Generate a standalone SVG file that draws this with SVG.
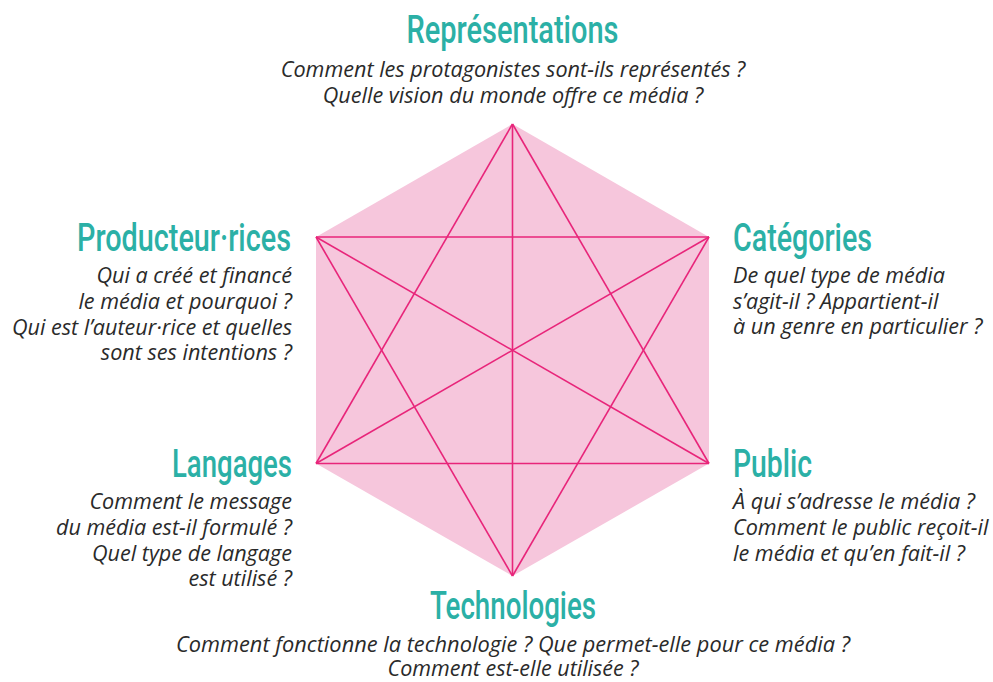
<svg xmlns="http://www.w3.org/2000/svg" width="993" height="682" viewBox="0 0 993 682">
<style>
.h{font-family:Roboto,"Liberation Sans",sans-serif;font-weight:500;font-size:38px;fill:#2bb0a6}
.b{font-family:"Open Sans","Liberation Sans",sans-serif;font-style:italic;font-size:21.6px;fill:#2a2a2a}
.e{text-anchor:end}.m{text-anchor:middle}
.ln{stroke:#e8257a;stroke-width:1.6;fill:none}
</style>
<rect width="993" height="682" fill="#fff"/>
<g id="hexagon">
<polygon points="512.5,124 709,237 709,463.5 512.5,576 316,463.5 316,237" fill="#f6c6dc"/>
</g>
<g id="connectors" class="ln">
<line x1="316" y1="237" x2="709" y2="237"/>
<line x1="316" y1="463.5" x2="709" y2="463.5"/>
<line x1="512.5" y1="124" x2="512.5" y2="576"/>
<line x1="512.5" y1="124" x2="316" y2="463.5"/>
<line x1="512.5" y1="124" x2="709" y2="463.5"/>
<line x1="512.5" y1="576" x2="316" y2="237"/>
<line x1="512.5" y1="576" x2="709" y2="237"/>
<line x1="316" y1="237" x2="709" y2="463.5"/>
<line x1="709" y1="237" x2="316" y2="463.5"/>
</g>
<g id="representations">
<text class="h m" x="512.5" y="43" textLength="212" lengthAdjust="spacingAndGlyphs">Représentations</text>
<text class="b m" x="513" y="77">Comment les protagonistes sont-ils représentés ?</text>
<text class="b m" x="513" y="103">Quelle vision du monde offre ce média ?</text>
</g>
<g id="producteurs">
<text class="h e" x="291" y="251" textLength="214" lengthAdjust="spacingAndGlyphs">Producteur·rices</text>
<text class="b e" x="292" y="283">Qui a créé et financé</text>
<text class="b e" x="292" y="309">le média et pourquoi ?</text>
<text class="b e" x="292" y="335">Qui est l’auteur·rice et quelles</text>
<text class="b e" x="292" y="360">sont ses intentions ?</text>
</g>
<g id="categories">
<text class="h" x="733" y="251" textLength="139" lengthAdjust="spacingAndGlyphs">Catégories</text>
<text class="b" x="733" y="283">De quel type de média</text>
<text class="b" x="733" y="309">s’agit-il ? Appartient-il</text>
<text class="b" x="733" y="334">à un genre en particulier ?</text>
</g>
<g id="langages">
<text class="h e" x="292" y="477" textLength="120" lengthAdjust="spacingAndGlyphs">Langages</text>
<text class="b e" x="292" y="509">Comment le message</text>
<text class="b e" x="292" y="535">du média est-il formulé ?</text>
<text class="b e" x="292" y="561">Quel type de langage</text>
<text class="b e" x="292" y="586">est utilisé ?</text>
</g>
<g id="public">
<text class="h" x="733" y="477" textLength="79" lengthAdjust="spacingAndGlyphs">Public</text>
<text class="b" x="733" y="509">À qui s’adresse le média ?</text>
<text class="b" x="733" y="535">Comment le public reçoit-il</text>
<text class="b" x="733" y="561">le média et qu’en fait-il ?</text>
</g>
<g id="technologies">
<text class="h m" x="513" y="619" textLength="166" lengthAdjust="spacingAndGlyphs">Technologies</text>
<text class="b m" x="513" y="652" textLength="674" lengthAdjust="spacingAndGlyphs">Comment fonctionne la technologie ? Que permet-elle pour ce média ?</text>
<text class="b m" x="513" y="676" textLength="251" lengthAdjust="spacingAndGlyphs">Comment est-elle utilisée ?</text>
</g>
</svg>
